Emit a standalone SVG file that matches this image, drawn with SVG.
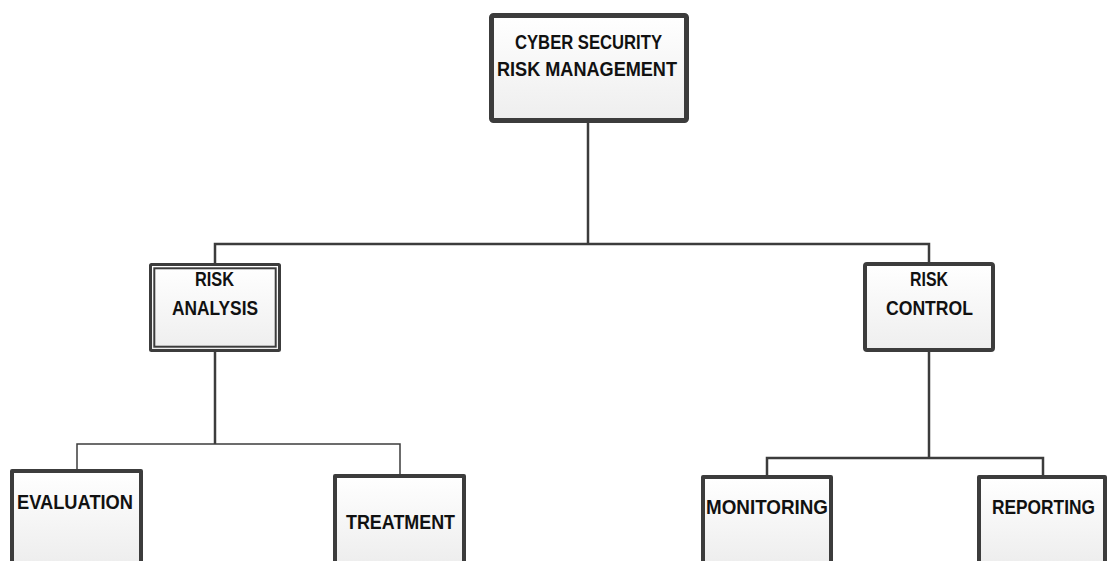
<svg xmlns="http://www.w3.org/2000/svg" width="1108" height="561" viewBox="0 0 1108 561">
<defs>
<linearGradient id="fillg" x1="0" y1="0" x2="0" y2="1">
<stop offset="0" stop-color="#ffffff"/>
<stop offset="1" stop-color="#eeeeee"/>
</linearGradient>
<style>
.box{fill:url(#fillg);stroke:#3c3c3c;stroke-width:4}
.open{fill:url(#fillg);stroke:#3c3c3c;stroke-width:4;stroke-linejoin:round}
.top{fill:url(#fillg);stroke:#3c3c3c;stroke-width:5}
.dbl{fill:none;stroke:#3c3c3c}
.lbl{font-family:"Liberation Sans",Arial,sans-serif;font-weight:bold;font-size:20px;fill:#111;text-anchor:middle}
.con{fill:none;stroke:#3c3c3c;stroke-width:2.5;stroke-linejoin:miter}
.thin{fill:none;stroke:#3c3c3c;stroke-width:1.5}
</style>
</defs>
<rect width="1108" height="561" fill="#ffffff"/>
<g id="connectors">
<polyline class="con" points="588,123 588,244"/>
<polyline class="con" points="215,263 215,244 929,244 929,262"/>
<polyline class="con" points="215,352 215,444"/>
<polyline class="thin" points="77,469 77,444 400,444 400,474"/>
<polyline class="con" points="929,352 929,458"/>
<polyline class="con" points="767,475 767,458 1043,458 1043,475"/>
</g>
<g id="node-cyber">
<rect class="top" x="491.5" y="15.5" width="195" height="105" rx="2"/>
<text class="lbl" x="588.5" y="49" textLength="147" lengthAdjust="spacingAndGlyphs">CYBER SECURITY</text>
<text class="lbl" x="587" y="76" textLength="180" lengthAdjust="spacingAndGlyphs">RISK MANAGEMENT</text>
</g>
<g id="node-analysis">
<rect x="150.5" y="264.5" width="129" height="86" fill="url(#fillg)"/>
<rect class="dbl" x="150.5" y="264.5" width="129" height="86" stroke-width="3" rx="1"/>
<rect class="dbl" x="154.3" y="268.3" width="121.4" height="78.4" stroke-width="2"/>
<text class="lbl" x="214.5" y="286" textLength="39" lengthAdjust="spacingAndGlyphs">RISK</text>
<text class="lbl" x="215" y="315" textLength="86" lengthAdjust="spacingAndGlyphs">ANALYSIS</text>
</g>
<g id="node-control">
<rect class="box" x="865" y="264" width="128" height="86" rx="2"/>
<text class="lbl" x="929" y="286" textLength="38" lengthAdjust="spacingAndGlyphs">RISK</text>
<text class="lbl" x="929.5" y="315" textLength="87" lengthAdjust="spacingAndGlyphs">CONTROL</text>
</g>
<g id="node-evaluation">
<path class="open" d="M12,561 V471 H141 V561"/>
<text class="lbl" x="75" y="508.5" textLength="116" lengthAdjust="spacingAndGlyphs">EVALUATION</text>
</g>
<g id="node-treatment">
<path class="open" d="M335,561 V476 H464 V561"/>
<text class="lbl" x="400.5" y="528.5" textLength="109" lengthAdjust="spacingAndGlyphs">TREATMENT</text>
</g>
<g id="node-monitoring">
<path class="open" d="M703,561 V477 H831 V561"/>
<text class="lbl" x="767" y="513.5" textLength="122" lengthAdjust="spacingAndGlyphs">MONITORING</text>
</g>
<g id="node-reporting">
<path class="open" d="M979,561 V477 H1105 V561"/>
<text class="lbl" x="1043.5" y="513.5" textLength="103" lengthAdjust="spacingAndGlyphs">REPORTING</text>
</g>
</svg>
